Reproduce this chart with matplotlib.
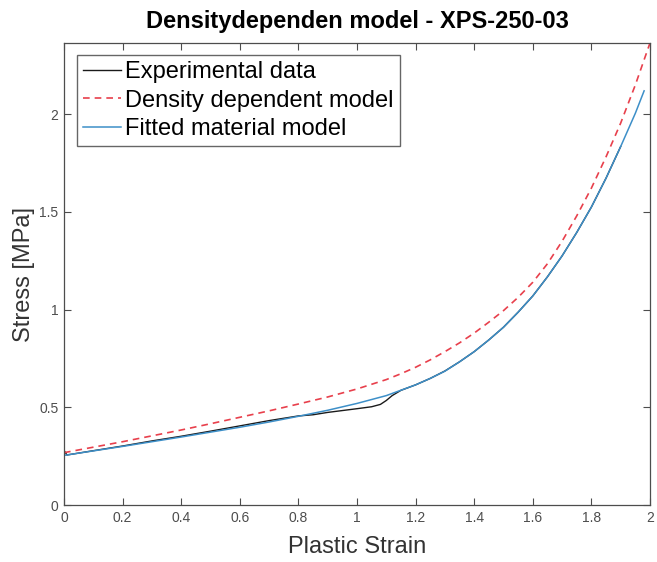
import numpy as np
import matplotlib
matplotlib.use("Agg")
import matplotlib.pyplot as plt

plt.rcParams['font.family'] = ['Liberation Sans', 'DejaVu Sans']

# Experimental compression curve
exp_strain = [0.0, 0.01, 0.1, 0.2, 0.3, 0.4, 0.5, 0.6, 0.7, 0.8, 0.85, 0.9, 1.0,
              1.05, 1.08, 1.1, 1.12, 1.15, 1.2, 1.25, 1.3, 1.35, 1.4, 1.45, 1.5,
              1.55, 1.6, 1.65, 1.7, 1.75, 1.8, 1.85, 1.9]
exp_stress = [0.28, 0.256, 0.278, 0.302, 0.328, 0.352, 0.378, 0.405, 0.432, 0.456,
              0.462, 0.474, 0.493, 0.503, 0.515, 0.535, 0.56, 0.587, 0.615, 0.648,
              0.686, 0.733, 0.785, 0.845, 0.91, 0.987, 1.07, 1.168, 1.275, 1.395,
              1.525, 1.673, 1.835]

# Density dependent model
dd_strain = [0.0, 0.1, 0.2, 0.3, 0.4, 0.5, 0.6, 0.7, 0.8, 0.9, 1.0, 1.1, 1.15, 1.2,
             1.25, 1.3, 1.35, 1.4, 1.45, 1.5, 1.55, 1.6, 1.65, 1.7, 1.75, 1.8,
             1.85, 1.9, 1.95, 2.0]
dd_stress = [0.268, 0.296, 0.324, 0.354, 0.384, 0.416, 0.449, 0.482, 0.517, 0.553,
             0.594, 0.642, 0.672, 0.705, 0.743, 0.785, 0.83, 0.88, 0.936, 0.995,
             1.063, 1.14, 1.235, 1.35, 1.48, 1.622, 1.782, 1.955, 2.15, 2.365]

# Fitted material model
fit_strain = [0.0, 0.1, 0.2, 0.3, 0.4, 0.5, 0.6, 0.7, 0.8, 0.9, 1.0, 1.1, 1.2, 1.25,
              1.3, 1.35, 1.4, 1.45, 1.5, 1.55, 1.6, 1.65, 1.7, 1.75, 1.8, 1.85,
              1.9, 1.95, 1.98]
fit_stress = [0.254, 0.277, 0.300, 0.324, 0.348, 0.373, 0.398, 0.425, 0.454, 0.485,
              0.520, 0.560, 0.615, 0.648, 0.685, 0.733, 0.785, 0.845, 0.91, 0.987,
              1.07, 1.168, 1.275, 1.395, 1.525, 1.673, 1.835, 2.005, 2.12]

x_ticks = [0, 0.2, 0.4, 0.6, 0.8, 1, 1.2, 1.4, 1.6, 1.8, 2]
y_ticks = [0, 0.5, 1, 1.5, 2]

fig = plt.figure(figsize=(6.57, 5.62), dpi=100)
ax = fig.add_axes([0.0974, 0.1014, 0.8919, 0.8221])

ax.plot(exp_strain, exp_stress, color='#1a1a1a', lw=1.0, label='Experimental data')
ax.plot(dd_strain, dd_stress, color='#e8404c', lw=1.2, ls=(0, (4, 3)),
        label='Density dependent model')
ax.plot(fit_strain, fit_stress, color='#3d8fc8', lw=1.1, label='Fitted material model')

ax.set_xlim(0, 2)
ax.set_ylim(0, max(dd_stress))
ax.set_xticks(x_ticks)
ax.set_xticklabels([f'{t:g}' for t in x_ticks])
ax.set_yticks(y_ticks)
ax.set_yticklabels([f'{t:g}' for t in y_ticks])

ax.tick_params(direction='in', length=5, width=0.8, top=True, right=True,
               labelsize=10, colors='0.3', pad=4)
for s in ax.spines.values():
    s.set_color('0.3')
    s.set_linewidth(0.9)

ax.set_title('Densitydependen model - XPS-250-03', fontsize=17, fontweight='bold', pad=11)
ax.set_xlabel('Plastic Strain', fontsize=17, color='0.2', labelpad=8)
ax.set_ylabel('Stress [MPa]', fontsize=17, color='0.2', labelpad=3)

leg = ax.legend(loc='upper left', bbox_to_anchor=(0.022, 0.974), fontsize=17,
                frameon=True, fancybox=False, handlelength=1.6, handletextpad=0.2,
                labelspacing=0.28, borderpad=0.25, borderaxespad=0)
leg.get_frame().set_edgecolor('0.25')
leg.get_frame().set_linewidth(1.0)

fig.savefig('out.png', dpi=100, facecolor='white')
